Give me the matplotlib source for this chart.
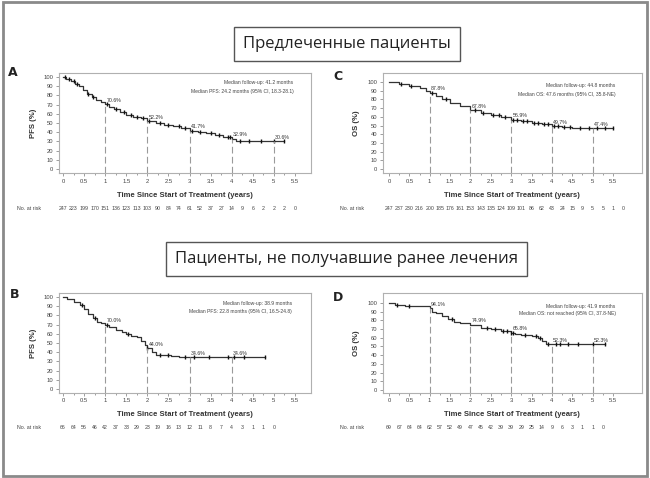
import numpy as np
import matplotlib
matplotlib.use("Agg")
import matplotlib.pyplot as plt
from matplotlib.patches import Rectangle

plt.rcParams['font.family'] = ['Liberation Sans', 'DejaVu Sans']

# ---- данные ----
# A: PFS, предлеченные
a_t = [0, 0.08, 0.18, 0.28, 0.38, 0.48, 0.58, 0.68, 0.78, 0.9, 1.0, 1.1, 1.2, 1.35, 1.5, 1.65, 1.85, 2.0, 2.2, 2.4, 2.6, 2.8, 3.0, 3.2, 3.4, 3.6, 3.8, 4.0, 4.1, 5.25]
a_s = [100, 98, 96, 93, 90, 86, 82, 78, 75, 73, 70.6, 68, 65, 62, 59, 57, 55, 52.2, 50, 48, 47, 45, 41.7, 40, 39, 37, 35, 32.9, 30.6, 30.6]
a_cens = [0.05, 0.15, 0.25, 0.32, 0.6, 0.72, 1.05, 1.25, 1.45, 1.6, 1.75, 1.9, 2.05, 2.3, 2.5, 2.75, 2.9, 3.05, 3.25, 3.5, 3.7, 3.9, 3.95, 4.2, 4.4, 4.7, 5.0, 5.25]
a_land = [1, 2, 3, 4, 5]
a_lab = ["70.6%", "52.2%", "41.7%", "32.9%", "30.6%"]
a_risk = [247, 223, 199, 170, 151, 136, 123, 113, 103, 90, 84, 74, 61, 52, 37, 27, 14, 9, 6, 2, 2, 2, 0]

# C: OS, предлеченные
c_t = [0, 0.25, 0.5, 0.75, 0.9, 1.0, 1.15, 1.3, 1.5, 1.75, 2.0, 2.25, 2.5, 2.75, 3.0, 3.25, 3.5, 3.75, 4.0, 4.25, 4.5, 5.5]
c_s = [100, 98, 96, 93, 90, 87.8, 84, 80, 76, 72, 67.8, 65, 62, 60, 56.9, 55, 53, 52, 49.7, 48, 47.4, 47.4]
c_cens = [0.3, 0.55, 1.05, 1.4, 2.1, 2.3, 2.55, 2.7, 2.85, 3.05, 3.15, 3.3, 3.4, 3.55, 3.65, 3.8, 3.9, 4.05, 4.15, 4.3, 4.45, 4.7, 4.9, 5.1, 5.3, 5.5]
c_land = [1, 2, 3, 4, 5]
c_lab = ["87.8%", "67.8%", "56.9%", "49.7%", "47.4%"]
c_risk = [247, 237, 230, 216, 200, 185, 176, 161, 153, 143, 135, 124, 109, 101, 86, 62, 43, 24, 15, 9, 5, 5, 1, 0]

# B: PFS, ранее не получавшие лечения
b_t = [0, 0.1, 0.25, 0.4, 0.5, 0.6, 0.7, 0.8, 0.9, 1.0, 1.1, 1.25, 1.4, 1.5, 1.6, 1.75, 1.85, 1.95, 2.0, 2.1, 2.2, 2.55, 2.75, 4.8]
b_s = [100, 98, 95, 91, 87, 82, 77, 73, 72, 70, 67, 64, 62, 60, 58, 56, 52, 48, 44, 40, 37, 36, 34.6, 34.6]
b_cens = [0.45, 0.75, 1.05, 1.55, 2.0, 2.3, 2.5, 2.9, 3.1, 3.45, 3.9, 4.05, 4.3, 4.8]
b_land = [1, 2, 3, 4]
b_lab = ["70.0%", "44.0%", "34.6%", "34.6%"]
b_risk = [66, 64, 56, 46, 42, 37, 33, 29, 23, 19, 16, 13, 12, 11, 8, 7, 4, 3, 1, 1, 0]

# D: OS, ранее не получавшие лечения
d_t = [0, 0.15, 0.4, 1.0, 1.05, 1.15, 1.3, 1.45, 1.6, 1.75, 2.0, 2.25, 2.5, 2.75, 3.0, 3.1, 3.25, 3.5, 3.65, 3.75, 3.85, 4.0, 5.3]
d_s = [100, 98, 96, 94.1, 90, 88, 85, 81, 78, 77, 74.9, 71, 70, 68, 65.8, 64, 63, 62, 60, 56, 53, 52.3, 52.3]
d_cens = [0.2, 0.5, 1.55, 2.4, 2.6, 2.8, 2.9, 3.0, 3.05, 3.35, 3.6, 3.7, 3.9, 4.1, 4.2, 4.4, 4.65, 5.0, 5.3]
d_land = [1, 2, 3, 4, 5]
d_lab = ["94.1%", "74.9%", "65.8%", "52.3%", "52.3%"]
d_risk = [69, 67, 64, 64, 62, 57, 52, 49, 47, 45, 42, 39, 39, 29, 25, 14, 9, 6, 3, 1, 1, 0]

xticks = [0, 0.5, 1, 1.5, 2, 2.5, 3, 3.5, 4, 4.5, 5, 5.5]
xticklabels = ["0", "0.5", "1", "1.5", "2", "2.5", "3", "3.5", "4", "4.5", "5", "5.5"]
yticks = [0, 10, 20, 30, 40, 50, 60, 70, 80, 90, 100]

fig = plt.figure(figsize=(6.5, 4.78), dpi=100)

# внешняя рамка
fig.patches.append(Rectangle((0.004, 0.004), 0.992, 0.992, transform=fig.transFigure,
                             fill=False, ec='#8a8a8a', lw=2))


def step_val(times, surv, t):
    idx = np.searchsorted(times, t, side='right') - 1
    return surv[max(idx, 0)]


def km_panel(rect, xlim, ylim, t, s, cens, land, labs, risk, ylab, note1, note2, letter, lpos):
    ax = fig.add_axes(rect)
    ax.step(t, s, where='post', color='#333333', lw=0.9)
    cy = [step_val(t, s, c) for c in cens]
    ax.plot(cens, cy, ls='none', marker='|', ms=3, mew=1.0, color='#111111')
    for x, lab in zip(land, labs):
        v = step_val(t, s, x)
        ax.plot([x, x], [ylim[0], v], color='#9a9a9a', lw=0.8, dashes=(6, 3))
        ax.text(x + 0.03, v + 1.5, lab, fontsize=3.8, color='#333333', ha='left', va='bottom')
    ax.set_xlim(*xlim)
    ax.set_ylim(*ylim)
    ax.set_xticks(xticks)
    ax.set_xticklabels(xticklabels)
    ax.set_xticks(np.arange(0, 5.6, 0.25), minor=True)
    ax.set_yticks(yticks)
    ax.tick_params(axis='both', which='both', labelsize=4.2, length=2, width=0.5,
                   color='#777777', labelcolor='#444444', pad=2)
    ax.tick_params(axis='x', which='minor', length=1.5)
    for sp in ax.spines.values():
        sp.set_color('#b0b0b0')
        sp.set_linewidth(0.8)
    ax.text(-0.10, 0.5, ylab, transform=ax.transAxes, rotation=90, ha='center', va='center',
            fontsize=5.6, color='#333333', fontweight='bold')
    ax.text(0.5, -0.22, "Time Since Start of Treatment (years)", transform=ax.transAxes,
            ha='center', va='center', fontsize=5.5, color='#333333', fontweight='bold')
    ax.text(note1[0], note1[1], note1[2], transform=ax.transAxes, ha='right', va='center',
            fontsize=3.6, color='#444444')
    ax.text(note2[0], note2[1], note2[2], transform=ax.transAxes, ha='right', va='center',
            fontsize=3.6, color='#444444')
    ax.text(-0.167, -0.35, "No. at risk", transform=ax.transAxes, ha='left', va='center',
            fontsize=3.8, color='#444444')
    for i, n in enumerate(risk):
        ax.annotate(str(n), xy=(i * 0.25, 0), xycoords=('data', 'axes fraction'),
                    xytext=(0, -35), textcoords='offset pixels',
                    ha='center', va='center', fontsize=3.8, color='#444444', annotation_clip=False)
    fig.text(lpos[0], lpos[1], letter, fontsize=9, fontweight='bold', family='DejaVu Sans',
             ha='center', va='center', color='#222222')
    return ax


km_panel([0.0908, 0.638, 0.3877, 0.209], (-0.095, 5.88), (-4.3, 104.3),
         a_t, a_s, a_cens, a_land, a_lab, a_risk, "PFS (%)",
         (0.93, 0.91, "Median follow-up: 41.2 months"),
         (0.93, 0.82, "Median PFS: 24.2 months (95% CI, 18.3-28.1)"), "A", (0.02, 0.849))
km_panel([0.589, 0.638, 0.398, 0.209], (-0.15, 6.2), (-4.6, 110.3),
         c_t, c_s, c_cens, c_land, c_lab, c_risk, "OS (%)",
         (0.90, 0.88, "Median follow-up: 44.8 months"),
         (0.90, 0.79, "Median OS: 47.6 months (95% CI, 35.8-NE)"), "C", (0.52, 0.839))
km_panel([0.0908, 0.178, 0.3877, 0.209], (-0.095, 5.88), (-4.3, 104.3),
         b_t, b_s, b_cens, b_land, b_lab, b_risk, "PFS (%)",
         (0.925, 0.90, "Median follow-up: 38.9 months"),
         (0.925, 0.81, "Median PFS: 22.8 months (95% CI, 16.5-24.8)"), "B", (0.022, 0.383))
km_panel([0.589, 0.178, 0.398, 0.209], (-0.15, 6.2), (-3.4, 111.4),
         d_t, d_s, d_cens, d_land, d_lab, d_risk, "OS (%)",
         (0.90, 0.87, "Median follow-up: 41.9 months"),
         (0.90, 0.79, "Median OS: not reached (95% CI, 37.8-NE)"), "D", (0.52, 0.377))

box = dict(boxstyle='square,pad=0.55', fc='white', ec='#555555', lw=1.0)
fig.text(0.534, 0.908, "Предлеченные пациенты", fontsize=12, family=['Open Sans', 'DejaVu Sans'],
         ha='center', va='center', color='#222222', bbox=box)
fig.text(0.533, 0.458, "Пациенты, не получавшие ранее лечения", fontsize=12,
         family=['Open Sans', 'DejaVu Sans'], ha='center', va='center', color='#222222', bbox=box)

fig.savefig("out.png", dpi=100)
